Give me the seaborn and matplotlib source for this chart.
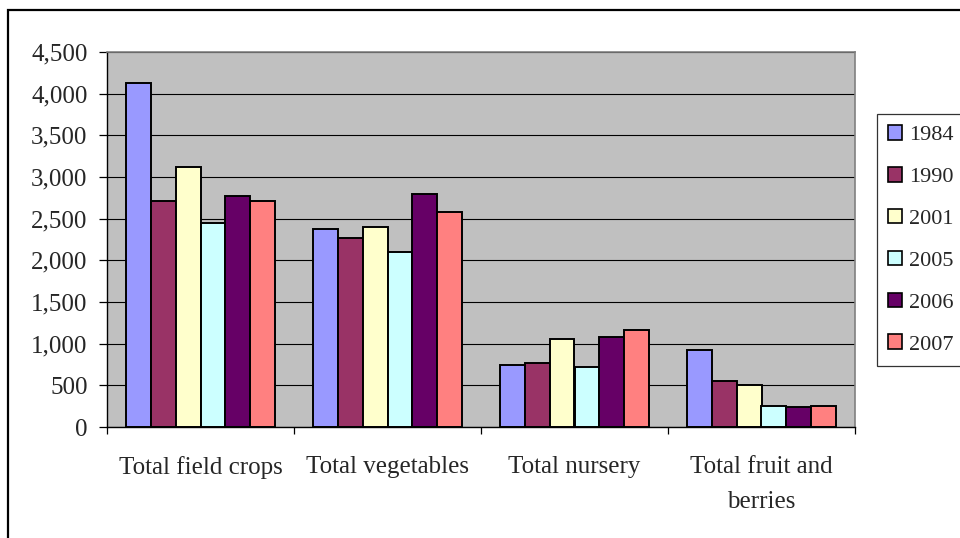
import matplotlib
matplotlib.use("Agg")
import matplotlib.pyplot as plt
from matplotlib.patches import Rectangle
from matplotlib.ticker import FuncFormatter, MultipleLocator
import seaborn as sns
import pandas as pd

# Farm product totals by category and survey year
categories = ["Total field crops", "Total vegetables", "Total nursery",
              "Total fruit and\nberries"]
years = ["1984", "1990", "2001", "2005", "2006", "2007"]
values_1984 = [4130, 2370, 740, 930]
values_1990 = [2715, 2265, 770, 550]
values_2001 = [3125, 2400, 1055, 500]
values_2005 = [2450, 2095, 720, 255]
values_2006 = [2770, 2795, 1080, 235]
values_2007 = [2715, 2575, 1170, 255]
series = [values_1984, values_1990, values_2001, values_2005, values_2006, values_2007]
colors = ["#9999FF", "#993366", "#FFFFCC", "#CCFFFF", "#660066", "#FF8080"]

rows = []
for year, vals in zip(years, series):
    for cat, v in zip(categories, vals):
        rows.append({"category": cat, "year": year, "value": v})
df = pd.DataFrame(rows)

sns.set_theme(style="white")
plt.rcParams["font.family"] = ["Liberation Serif", "DejaVu Serif"]

fig = plt.figure(figsize=(9.6, 5.38), dpi=100)
ax = fig.add_axes([107 / 960, 1 - 427 / 538, (855 - 107) / 960, (427 - 52) / 538])
ax.set_facecolor("#C0C0C0")

sns.barplot(data=df, x="category", y="value", hue="year", order=categories,
            hue_order=years, palette=colors, width=0.8, edgecolor="black",
            linewidth=1.4, saturation=1, ax=ax, legend=True)

ax.set_ylim(0, 4500)
ax.set_xlim(-0.5, 3.5)
ax.yaxis.set_major_locator(MultipleLocator(500))
ax.yaxis.set_major_formatter(FuncFormatter(lambda v, p: f"{int(v):,}"))
ax.grid(axis="y", color="black", linewidth=0.8)
ax.set_axisbelow(True)
ax.set_xlabel("")
ax.set_ylabel("")

# category separators on the x axis
ax.set_xticks([-0.5, 0.5, 1.5, 2.5, 3.5], minor=True)
ax.tick_params(axis="x", which="major", length=0, labelsize=18, pad=21)
ax.tick_params(axis="x", which="minor", length=5, width=0.9, color="black",
               direction="out", bottom=True)
ax.tick_params(axis="y", length=6, width=0.9, color="black", direction="out",
               labelsize=18, pad=8, left=True)
for lbl in ax.get_xticklabels():
    lbl.set_linespacing(1.75)
    lbl.set_verticalalignment("top")

for side in ["top", "right"]:
    ax.spines[side].set_color("#808080")
    ax.spines[side].set_linewidth(1.2)
for side in ["left", "bottom"]:
    ax.spines[side].set_color("black")
    ax.spines[side].set_linewidth(1.0)

handles, labels = ax.get_legend_handles_labels()
ax.get_legend().remove()
leg = fig.legend(handles, labels, loc="upper left",
                 bbox_to_anchor=(877 / 960, 1 - 114 / 538),
                 bbox_transform=fig.transFigure, frameon=True, fancybox=False,
                 edgecolor="black", fontsize=16, handlelength=0.63,
                 handleheight=0.63, handletextpad=0.3, labelspacing=0.98,
                 borderpad=0.5, borderaxespad=0)
leg.get_frame().set_linewidth(0.9)
for h in leg.legend_handles:
    h.set_edgecolor("black")
    h.set_linewidth(1.2)

# outer chart border
fig.patches.append(Rectangle((8 / 960, -0.05), 1.1, 1 - 10 / 538 + 0.05,
                             transform=fig.transFigure, fill=False,
                             edgecolor="black", linewidth=1.6))

fig.savefig("out.png", dpi=100)
